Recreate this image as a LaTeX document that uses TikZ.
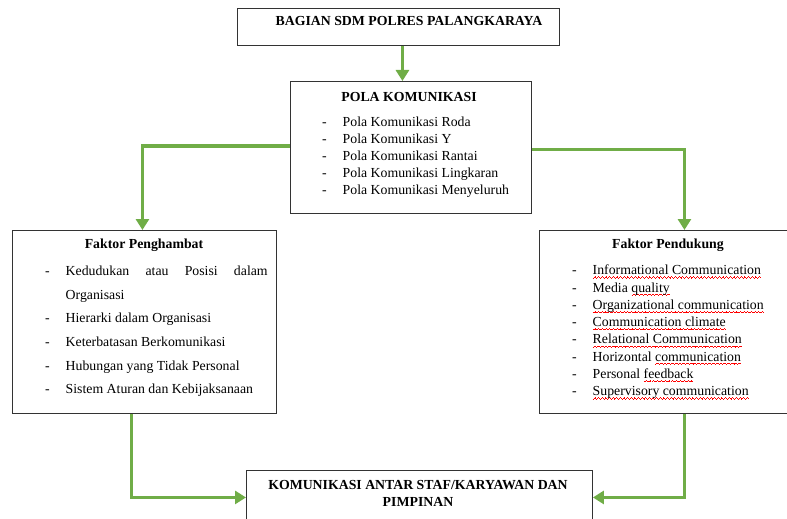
\documentclass[tikz,border=0pt]{standalone}
\usepackage{fontspec}
\setmainfont{Liberation Serif}
\usetikzlibrary{arrows.meta, positioning}
\definecolor{hijau}{RGB}{112,173,71}
\newcommand{\butir}[1]{\makebox[20.5pt][l]{-}#1}
% red wavy underline
\newsavebox{\sementara}
\newcommand{\gel}{\hbox{{\color{red}\rule[-3.4pt]{0.9pt}{0.6pt}\rule[-2.8pt]{0.9pt}{0.6pt}\rule[-2.2pt]{0.9pt}{0.6pt}\rule[-2.8pt]{0.9pt}{0.6pt}}}}
\newcommand{\salah}[1]{\sbox{\sementara}{#1}\rlap{\hbox to \wd\sementara{\xleaders\gel\hfil}}\usebox{\sementara}}

\begin{document}
\begin{tikzpicture}[x=1pt,y=-1pt,
    kotak/.style={draw=black!80,line width=0.9pt,inner sep=0pt,anchor=north west},
    judul/.style={font=\fontsize{13.8}{17}\selectfont\bfseries,anchor=base},
    isi/.style={font=\fontsize{13.8}{17}\selectfont,align=left,inner sep=0pt,anchor=north west},
    panah/.style={draw=hijau,line width=3.9pt,-{Triangle[width=13pt,length=11pt]}}]
    \useasboundingbox (0,0) rectangle (787,519);

    % Add the boxes
    \node[kotak,minimum width=322pt,minimum height=37pt] (sdm) at (237,8) {};
    \node[kotak,minimum width=241pt,minimum height=132pt] (pola) at (290,81) {};
    \node[kotak,minimum width=264pt,minimum height=183pt] (hambat) at (12,230) {};
    \node[kotak,minimum width=290pt,minimum height=183pt] (dukung) at (539,230) {};
    \node[kotak,minimum width=346pt,minimum height=54pt] (akhir) at (246,470) {};

    % Titles
    \node[judul] (sdm-judul) at (409,26) {BAGIAN SDM POLRES PALANGKARAYA};
    \node[judul] (pola-judul) at (409,101) {POLA KOMUNIKASI};
    \node[judul] (hambat-judul) at (144,248) {Faktor Penghambat};
    \node[judul] (dukung-judul) at (668,248) {Faktor Pendukung};
    \node[judul,anchor=north,align=center] (akhir-judul) at (418,477)
        {KOMUNIKASI ANTAR STAF/KARYAWAN DAN\\PIMPINAN};

    % Lists
    \node[isi] (pola-isi) at (322,116.6) {%
        \butir{Pola Komunikasi Roda}\\
        \butir{Pola Komunikasi Y}\\
        \butir{Pola Komunikasi Rantai}\\
        \butir{Pola Komunikasi Lingkaran}\\
        \butir{Pola Komunikasi Menyeluruh}};
    \node[isi,font=\fontsize{13.8}{23.7}\selectfont] (hambat-isi) at (45,265.6) {%
        \butir{\makebox[202pt][s]{Kedudukan atau Posisi dalam}}\\
        \hspace*{20.5pt}Organisasi\\
        \butir{Hierarki dalam Organisasi}\\
        \butir{Keterbatasan Berkomunikasi}\\
        \butir{Hubungan yang Tidak Personal}\\
        \butir{Sistem Aturan dan Kebijaksanaan}};
    \node[isi,font=\fontsize{13.8}{17.3}\selectfont] (dukung-isi) at (572,264.8) {%
        \butir{\salah{Informational Communication}}\\
        \butir{Media \salah{quality}}\\
        \butir{\salah{Organizational communication}}\\
        \butir{\salah{Communication climate}}\\
        \butir{\salah{Relational Communication}}\\
        \butir{Horizontal \salah{communication}}\\
        \butir{Personal \salah{feedback}}\\
        \butir{\salah{Supervisory communication}}};

    % Connect the boxes with arrows
    \draw[panah] ([xshift=4pt]sdm.south) -- ([xshift=4pt]sdm.south |- pola.north);
    \draw[panah] ([yshift=1.5pt]pola.west) -| ([xshift=-2pt]hambat.north);
    \draw[panah] ([yshift=-2pt]pola.east) -| (dukung.north);
    \draw[panah] ([xshift=-13pt]hambat.south) |- (akhir.west);
    \draw[panah] (dukung.south) |- (akhir.east);
\end{tikzpicture}
\end{document}
